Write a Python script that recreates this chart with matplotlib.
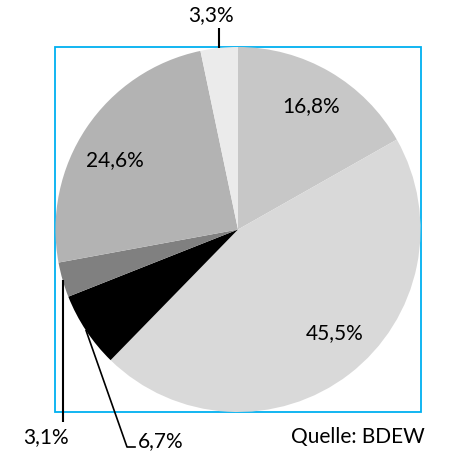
import numpy as np
import matplotlib
matplotlib.use("Agg")
import matplotlib.pyplot as plt
from matplotlib.patches import Rectangle

values = [16.8, 45.5, 6.7, 3.1, 24.6, 3.3]
labels = ["16,8%", "45,5%", "6,7%", "3,1%", "24,6%", "3,3%"]
colors = ["#c7c7c7", "#d9d9d9", "#000000", "#808080", "#b3b3b3", "#ebebeb"]
source = "Quelle: BDEW"

W, H = 450, 467
fig = plt.figure(figsize=(W / 100, H / 100), dpi=100)
ax = fig.add_axes([0, 0, 1, 1])

font = ["Lato", "DejaVu Sans"]
fs = 15

cx, cy, r = 238, H - 229.5, 182.5
# frame
ax.add_patch(Rectangle((55, H - 412), 366, 365, fill=False, edgecolor="#00b0f0", lw=1.3, zorder=1))

wedges, _ = ax.pie(values, colors=colors, startangle=90, counterclock=False,
                   center=(cx, cy), radius=r, wedgeprops=dict(linewidth=0), frame=True)
ax.set_xlim(0, W)
ax.set_ylim(0, H)
ax.set_aspect("equal")
ax.axis("off")

def mid(w):
    a = np.deg2rad((w.theta1 + w.theta2) / 2)
    return cx + r * np.cos(a), cy + r * np.sin(a)

# inside labels
inside = {0: (311, 106), 1: (335, 333), 4: (115, 160)}
for i, (px, py) in inside.items():
    ax.text(px, H - py, labels[i], ha="center", va="center", fontsize=fs, family=font, color="black")

# 3,3% leader
x5, y5 = mid(wedges[5])
ax.plot([x5, x5], [y5, H - 28], color="black", lw=1.5, solid_capstyle="butt")
ax.text(211, H - 15, labels[5], ha="center", va="center", fontsize=fs, family=font)

# 3,1% leader
x3, y3 = mid(wedges[3])
ax.plot([x3, x3], [y3, H - 422], color="black", lw=1.5, solid_capstyle="butt")
ax.text(46, H - 437, labels[3], ha="center", va="center", fontsize=fs, family=font)

# 6,7% leader
x2, y2 = mid(wedges[2])
ax.plot([x2, 127, 135], [y2, H - 447, H - 447], color="black", lw=1.2)
ax.text(138, H - 441, labels[2], ha="left", va="center", fontsize=fs, family=font)

ax.text(425, H - 437, source, ha="right", va="center", fontsize=fs, family=font)

fig.savefig("out.png", dpi=100)
